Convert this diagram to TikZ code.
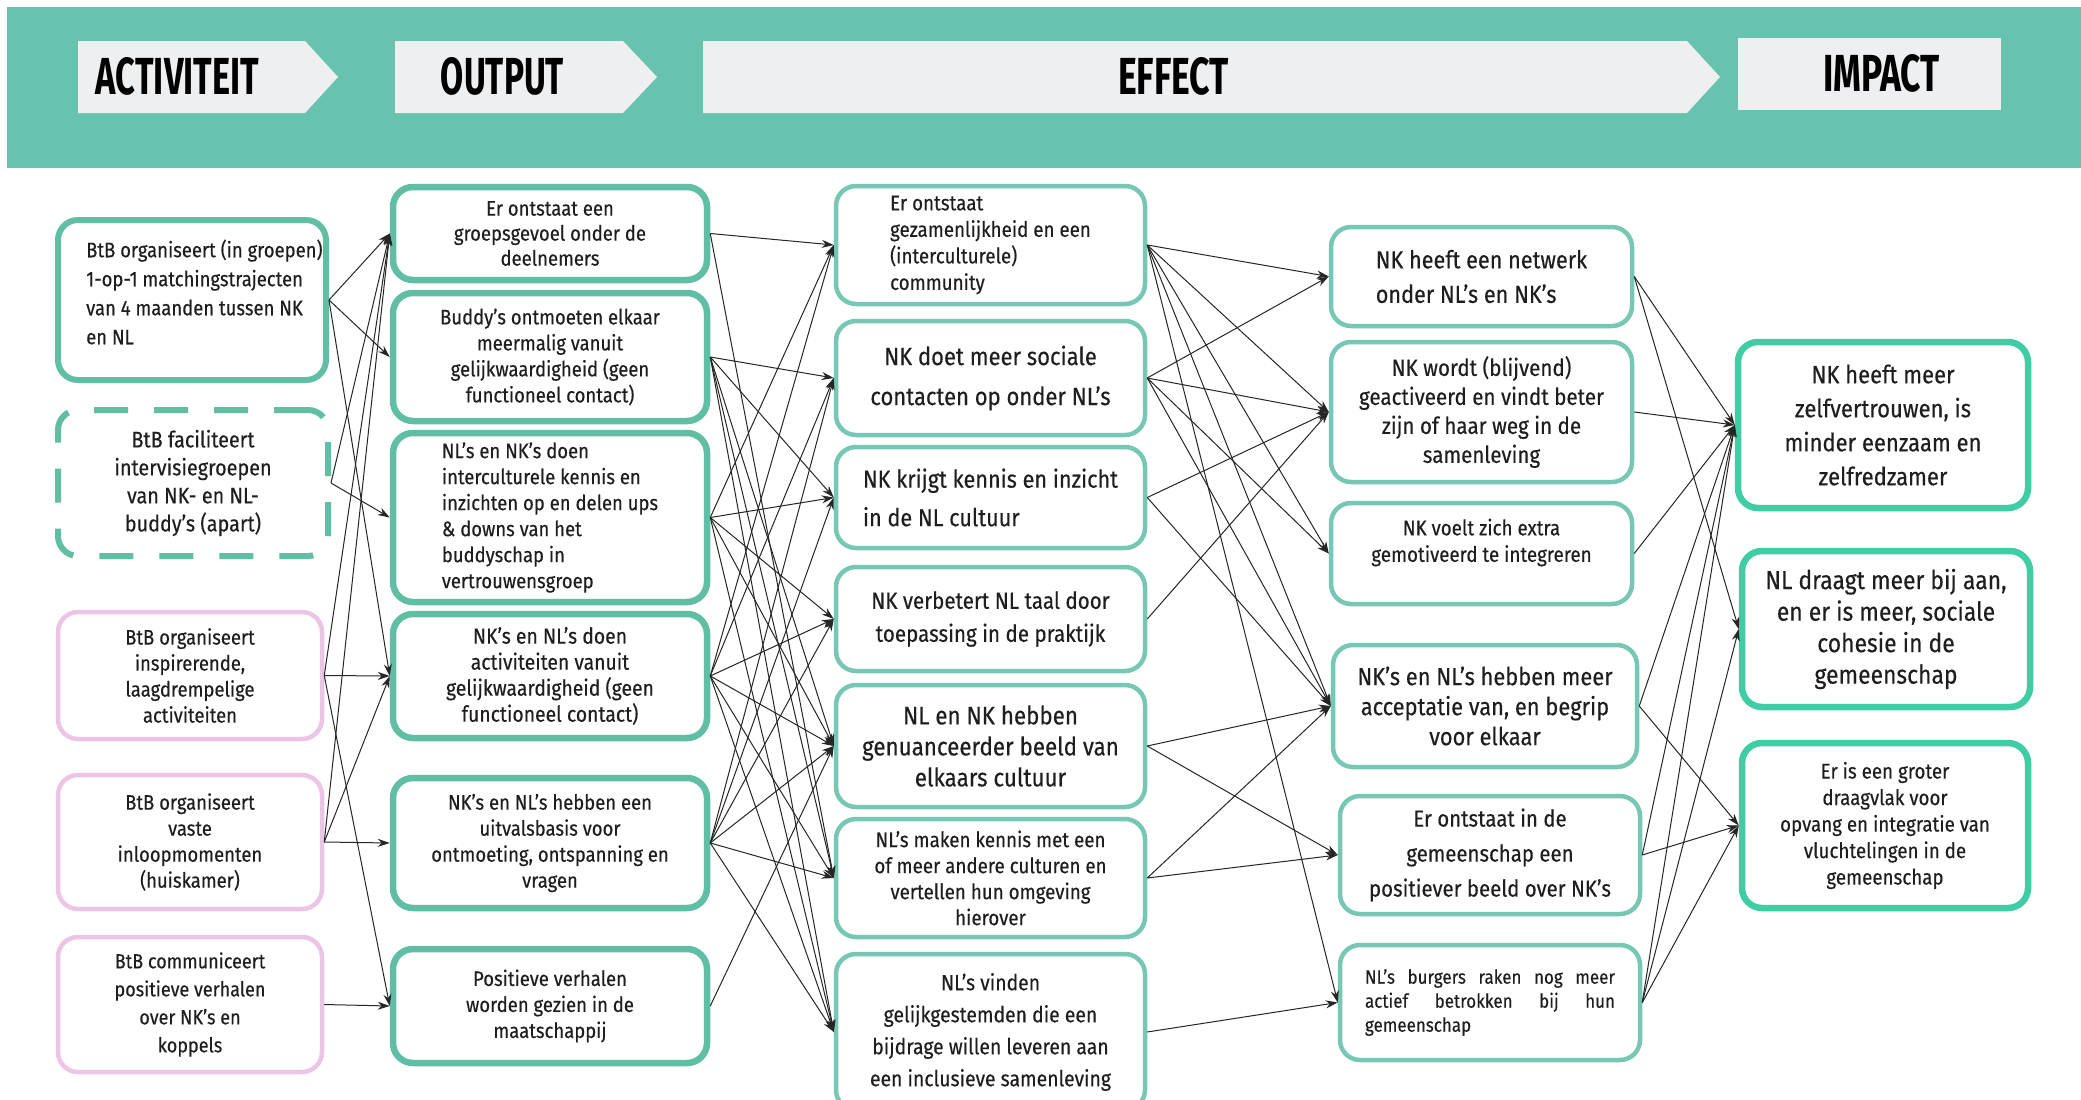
\documentclass[tikz,border=0pt]{standalone}
\usepackage{fontspec}
\usetikzlibrary{arrows.meta}
\newfontfamily\bodyf{Fira Sans}[FakeStretch=0.88,FakeBold=0.3]
\newfontfamily\headf{Fira Sans}
\definecolor{band}{RGB}{104,195,174}
\definecolor{chev}{RGB}{238,239,241}
\definecolor{tealA}{RGB}{96,190,165}
\definecolor{tealE}{RGB}{118,200,180}
\definecolor{tealI}{RGB}{64,205,165}
\definecolor{pinkA}{RGB}{236,196,230}
\definecolor{ink}{RGB}{30,30,30}
\tikzset{
  bx/.style={draw, rounded corners=20pt, fill=white, inner sep=0pt, align=center, text=ink},
  boxA/.style={bx, draw=tealA, line width=6pt},
  boxP/.style={bx, draw=pinkA, line width=4.5pt},
  boxD/.style={bx, draw=tealA, line width=6pt, dash pattern=on 34pt off 26pt},
  boxO/.style={bx, draw=tealA, line width=6.5pt},
  boxE/.style={bx, draw=tealE, line width=4.5pt},
  boxI/.style={bx, draw=tealI, line width=6.5pt},
  fs/.style 2 args={font=\bodyf\fontsize{#1}{#2}\selectfont},
  txt/.style={inner sep=0pt, text=ink},
  lk/.style={-{Stealth[length=12pt,width=8pt]}, line width=1pt, black!85},
  hd/.style={inner sep=0pt, font=\headf\bfseries},
}
\begin{document}
\begin{tikzpicture}[x=1pt,y=-1pt]
\useasboundingbox (0,0) rectangle (2081,1100);
\fill[white] (0,0) rectangle (2081,1100);
% header band
\fill[band] (7,7) rectangle (2081,168);
\fill[chev] (78,41) -- (305,41) -- (338,77) -- (305,113) -- (78,113) -- cycle;
\fill[chev] (395,41) -- (623,41) -- (657,77) -- (623,113) -- (395,113) -- cycle;
\fill[chev] (703,41) -- (1687,41) -- (1720,77) -- (1687,113) -- (703,113) -- cycle;
\fill[chev] (1738,38) rectangle (2001,110);
\node[hd] (hact) at (177.5,76.5) {\resizebox{163pt}{37pt}{ACTIVITEIT}};
\node[hd] (hout) at (502.5,76.5) {\resizebox{123pt}{37pt}{OUTPUT}};
\node[hd] (heff) at (1173.5,76.5) {\resizebox{111pt}{37pt}{EFFECT}};
\node[hd] (himp) at (1881.5,73.5) {\resizebox{117pt}{37pt}{IMPACT}};

% activiteit column
\node[boxA, minimum width=268pt, minimum height=160pt] (a1) at (192,300) {};
\node[txt, fs={21}{29}, align=left, anchor=west] (a1t) at (86,292)
  {BtB organiseert (in groepen)\\1-op-1 matchingstrajecten\\van 4 maanden tussen NK\\en NL};
\node[boxD, minimum width=270pt, minimum height=146pt, fs={22.5}{28}] (a2) at (193,483)
  {BtB faciliteert\\intervisiegroepen\\van NK- en NL-\\buddy’s (apart)};
\node[boxP, minimum width=264pt, minimum height=127pt, fs={21}{26}] (a3) at (190,675.5)
  {BtB organiseert\\inspirerende,\\laagdrempelige\\activiteiten};
\node[boxP, minimum width=264pt, minimum height=134pt, fs={21}{26}] (a4) at (190,842)
  {BtB organiseert\\vaste\\inloopmomenten\\(huiskamer)};
\node[boxP, minimum width=264pt, minimum height=135pt, fs={20.5}{28}] (a5) at (190,1004.5)
  {BtB communiceert\\positieve verhalen\\over NK’s en\\koppels};

% output column
\node[boxO, minimum width=314pt, minimum height=93pt, fs={21}{25}] (o1) at (550,233.5)
  {Er ontstaat een\\groepsgevoel onder de\\deelnemers};
\node[boxO, minimum width=314pt, minimum height=128pt, fs={21}{26}] (o2) at (550,357)
  {Buddy’s ontmoeten elkaar\\meermalig vanuit\\gelijkwaardigheid (geen\\functioneel contact)};
\node[boxO, minimum width=314pt, minimum height=169pt, fs={21}{26}, align=left] (o3) at (550,517.5)
  {NL’s en NK’s doen\\interculturele kennis en\\inzichten op en delen ups\\\& downs van het\\buddyschap in\\vertrouwensgroep};
\node[boxO, minimum width=314pt, minimum height=124pt, fs={22}{26}] (o4) at (550,676)
  {NK’s en NL’s doen\\activiteiten vanuit\\gelijkwaardigheid (geen\\functioneel contact)};
\node[boxO, minimum width=314pt, minimum height=130pt, fs={21}{26}] (o5) at (550,843)
  {NK’s en NL’s hebben een\\uitvalsbasis voor\\ontmoeting, ontspanning en\\vragen};
\node[boxO, minimum width=314pt, minimum height=114pt, fs={21}{26}] (o6) at (550,1006)
  {Positieve verhalen\\worden gezien in de\\maatschappij};

% effect column 1
\node[boxE, minimum width=309pt, minimum height=118pt, fs={21.3}{26.5}, align=left] (e1) at (990.5,245)
  {Er ontstaat\\gezamenlijkheid en een\\(interculturele)\\community};
\node[boxE, minimum width=309pt, minimum height=114pt, fs={25}{40}] (e2) at (990.5,378)
  {NK doet meer sociale\\contacten op onder NL’s};
\node[boxE, minimum width=309pt, minimum height=101pt, fs={24.6}{38.5}, align=left] (e3) at (990.5,497.5)
  {NK krijgt kennis en inzicht\\in de NL cultuur};
\node[boxE, minimum width=309pt, minimum height=104pt, fs={23.4}{33}] (e4) at (990.5,619)
  {NK verbetert NL taal door\\toepassing in de praktijk};
\node[boxE, minimum width=309pt, minimum height=122pt, fs={25.4}{31}] (e5) at (990.5,746)
  {NL en NK hebben\\genuanceerder beeld van\\elkaars cultuur};
\node[boxE, minimum width=309pt, minimum height=118pt, fs={21.3}{26}] (e6) at (990.5,878)
  {NL’s maken kennis met een\\of meer andere culturen en\\vertellen hun omgeving\\hierover};
\node[boxE, minimum width=309pt, minimum height=156pt, fs={22}{32}] (e7) at (990.5,1032)
  {NL’s vinden\\gelijkgestemden die een\\bijdrage willen leveren aan\\een inclusieve samenleving};

% effect column 2
\node[boxE, minimum width=301pt, minimum height=99pt, fs={24.6}{34.5}, align=left] (f1) at (1481.5,276.5)
  {NK heeft een netwerk\\onder NL’s en NK’s};
\node[boxE, minimum width=301pt, minimum height=140pt, fs={23.4}{29}] (f2) at (1481.5,412)
  {NK wordt (blijvend)\\geactiveerd en vindt beter\\zijn of haar weg in de\\samenleving};
\node[boxE, minimum width=301pt, minimum height=101pt, fs={21.3}{26.5}] (f3) at (1481.5,553.5)
  {NK voelt zich extra\\gemotiveerd te integreren\\\mbox{}};
\node[boxE, minimum width=304pt, minimum height=122pt, fs={24.8}{30}] (f4) at (1485,706)
  {NK’s en NL’s hebben meer\\acceptatie van, en begrip\\voor elkaar};
\node[boxE, minimum width=300pt, minimum height=118pt, fs={23.2}{35}] (f5) at (1490,855)
  {Er ontstaat in de\\gemeenschap een\\positiever beeld over NK’s};
\node[boxE, minimum width=300pt, minimum height=115pt, fs={19.3}{24}, align=left] (f6) at (1490,1002.5)
  {\makebox[250pt][s]{NL’s burgers raken nog meer}\\\makebox[250pt][s]{actief betrokken bij hun}\\gemeenschap};

% impact column
\node[boxI, minimum width=290pt, minimum height=166pt, fs={25}{34}] (i1) at (1883,425)
  {NK heeft meer\\zelfvertrouwen, is\\minder eenzaam en\\zelfredzamer};
\node[boxI, minimum width=288pt, minimum height=156pt, fs={26}{31.5}] (i2) at (1886,629)
  {NL draagt meer bij aan,\\en er is meer, sociale\\cohesie in de\\gemeenschap};
\node[boxI, minimum width=286pt, minimum height=165pt, fs={21.3}{26.5}] (i3) at (1885,825.5)
  {Er is een groter\\draagvlak voor\\opvang en integratie van\\vluchtelingen in de\\gemeenschap};

% connectors
\foreach \s/\t in {a1/o1,a1/o2,a1/o4,a2/o1,a2/o3,a3/o1,a3/o4,a3/o6,a4/o1,a4/o4,a4/o5,a5/o6,
  o1/e1,o1/e6,o2/e2,o2/e3,o2/e5,o2/e6,o2/e7,o3/e1,o3/e3,o3/e4,o3/e5,o3/e7,
  o4/e1,o4/e2,o4/e4,o4/e5,o4/e6,o4/e7,o5/e2,o5/e3,o5/e4,o5/e5,o5/e6,o5/e7,o6/e5,
  e1/f1,e1/f2,e1/f3,e1/f4,e1/f6,e2/f1,e2/f2,e2/f3,e2/f4,e3/f2,e3/f4,e4/f2,
  e5/f4,e5/f5,e6/f4,e6/f5,e7/f6,
  f1/i1,f1/i2,f2/i1,f3/i1,f4/i1,f4/i3,f5/i1,f5/i3,f6/i1,f6/i2,f6/i3}
  \draw[lk] (\s.east) -- (\t.west);
\end{tikzpicture}
\end{document}
